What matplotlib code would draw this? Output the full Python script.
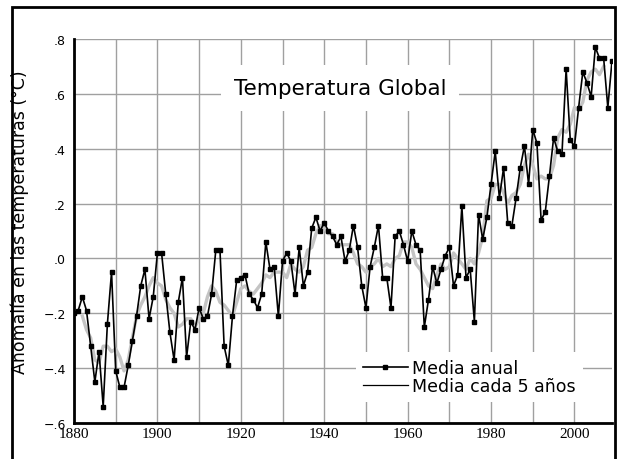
#coding: utf-8

import matplotlib
matplotlib.use('Agg')
import matplotlib.pyplot as plt
from matplotlib.lines import Line2D
from matplotlib.patches import Rectangle
import numpy as np

# datos (anomalia anual, 1880-2009)
years = np.arange(1880, 2010)
annual = [
    -0.20, -0.19, -0.14, -0.19, -0.32, -0.45, -0.34, -0.54, -0.24, -0.05,
    -0.41, -0.47, -0.47, -0.39, -0.30, -0.21, -0.10, -0.04, -0.22, -0.14,
    0.02, 0.02, -0.13, -0.27, -0.37, -0.16, -0.07, -0.36, -0.23, -0.26,
    -0.18, -0.22, -0.21, -0.13, 0.03, 0.03, -0.32, -0.39, -0.21, -0.08,
    -0.07, -0.06, -0.13, -0.15, -0.18, -0.13, 0.06, -0.04, -0.03, -0.21,
    -0.01, 0.02, -0.01, -0.13, 0.04, -0.10, -0.05, 0.11, 0.15, 0.10,
    0.13, 0.10, 0.08, 0.05, 0.08, -0.01, 0.03, 0.12, 0.04, -0.10,
    -0.18, -0.03, 0.04, 0.12, -0.07, -0.07, -0.18, 0.08, 0.10, 0.05,
    -0.01, 0.10, 0.05, 0.03, -0.25, -0.15, -0.03, -0.09, -0.04, 0.01,
    0.04, -0.10, -0.06, 0.19, -0.07, -0.04, -0.23, 0.16, 0.07, 0.15,
    0.27, 0.39, 0.22, 0.33, 0.13, 0.12, 0.22, 0.33, 0.41, 0.27,
    0.47, 0.42, 0.14, 0.17, 0.30, 0.44, 0.39, 0.38, 0.69, 0.43,
    0.41, 0.55, 0.68, 0.64, 0.59, 0.77, 0.73, 0.73, 0.55, 0.72,
]

# media cada 5 anos (1882-2007)
years5 = np.arange(1882, 2008)
mean5 = [
    -0.21, -0.26, -0.29, -0.37, -0.38, -0.32, -0.32, -0.34,
    -0.33, -0.36, -0.41, -0.37, -0.29, -0.21, -0.17, -0.14, -0.10, -0.07,
    -0.09, -0.10, -0.15, -0.18, -0.20, -0.25, -0.24, -0.22, -0.22, -0.25,
    -0.22, -0.20, -0.14, -0.10, -0.12, -0.16, -0.17, -0.19, -0.21, -0.16,
    -0.11, -0.10, -0.12, -0.13, -0.11, -0.09, -0.06, -0.07, -0.05, -0.05,
    -0.05, -0.07, -0.02, -0.04, -0.05, -0.03, 0.03, 0.04, 0.09, 0.12,
    0.11, 0.09, 0.09, 0.06, 0.05, 0.05, 0.05, 0.02, -0.02, -0.03,
    -0.05, -0.03, -0.02, 0.00, -0.03, -0.02, -0.03, 0.00, 0.01, 0.06,
    0.06, 0.04, -0.02, -0.04, -0.07, -0.10, -0.11, -0.06, -0.02, -0.04,
    -0.03, 0.02, 0.00, -0.02, -0.04, 0.00, -0.02, 0.02, 0.08, 0.21,
    0.22, 0.27, 0.27, 0.24, 0.20, 0.23, 0.24, 0.27, 0.34, 0.38,
    0.34, 0.29, 0.30, 0.29, 0.29, 0.34, 0.44, 0.47, 0.46, 0.49,
    0.55, 0.54, 0.57, 0.65, 0.68, 0.69, 0.67, 0.70,
]

x_ticks = np.arange(1880, 2010, 10)
x_labels = ['1880', '', '1900', '', '1920', '', '1940', '', '1960', '',
            '1980', '', '2000']
y_ticks = [-0.6, -0.4, -0.2, 0.0, 0.2, 0.4, 0.6, 0.8]
y_labels = ['\u2212.6', '\u2212.4', '\u2212.2', '.0', '.2', '.4', '.6', '.8']


def main():
    fig = plt.figure(figsize=(6.17, 4.60), dpi=100)
    ax = fig.add_axes([74 / 617, 1 - 424 / 460, (612 - 74) / 617, (424 - 40) / 460])

    # marco exterior
    fig.add_artist(Rectangle((12 / 617, -0.1), (615 - 12) / 617, 1.1 - 8 / 460,
                             transform=fig.transFigure, fill=False,
                             ec='black', lw=2))

    ax.plot(years5, mean5, color='#c4c4c4', lw=2.4, zorder=2)
    ax.plot(years, annual, color='black', lw=1.2, marker='s', ms=3.0, zorder=3)

    ax.set_xlim(1880, 2009)
    ax.set_ylim(-0.6, 0.8)
    ax.set_xticks(x_ticks)
    ax.set_xticklabels(x_labels, family='Liberation Serif', fontsize=11)
    ax.set_yticks(y_ticks)
    ax.set_yticklabels(y_labels, fontsize=9)
    ax.tick_params(length=0)
    ax.tick_params(axis='y', pad=6)
    ax.tick_params(axis='x', pad=3)
    ax.grid(True, color='#a0a0a0', lw=1.0)
    ax.set_axisbelow(True)

    for s in ['top', 'right']:
        ax.spines[s].set_visible(False)
    for s in ['left', 'bottom']:
        ax.spines[s].set_linewidth(2)
        ax.spines[s].set_color('black')

    fig.text(20 / 617, 1 - 222 / 460, 'Anomalía en las temperaturas (°C)',
             rotation=90, ha='center', va='center', fontsize=12.5)

    ax.text(1880 + (340 - 74) / 4.17, 0.8 - (89 - 40) / 274.5, 'Temperatura Global',
            ha='center', va='center', fontsize=15.5, zorder=5,
            bbox=dict(boxstyle='square,pad=0.6', fc='white', ec='none'))

    handles = [Line2D([], [], color='black', lw=1.2, marker='s', ms=3.0),
               Line2D([], [], color='black', lw=0.9)]
    leg = ax.legend(handles, ['Media anual', 'Media cada 5 años'],
                    loc='center', bbox_to_anchor=(0.735, 0.12), fontsize=12.5,
                    frameon=True, fancybox=False, handlelength=2.6,
                    handletextpad=0.25, labelspacing=0.0, borderpad=0.4)
    leg.get_frame().set_facecolor('white')
    leg.get_frame().set_edgecolor('none')
    leg.get_frame().set_alpha(1)
    leg.set_zorder(6)

    fig.savefig('out.png', dpi=100)


main()
